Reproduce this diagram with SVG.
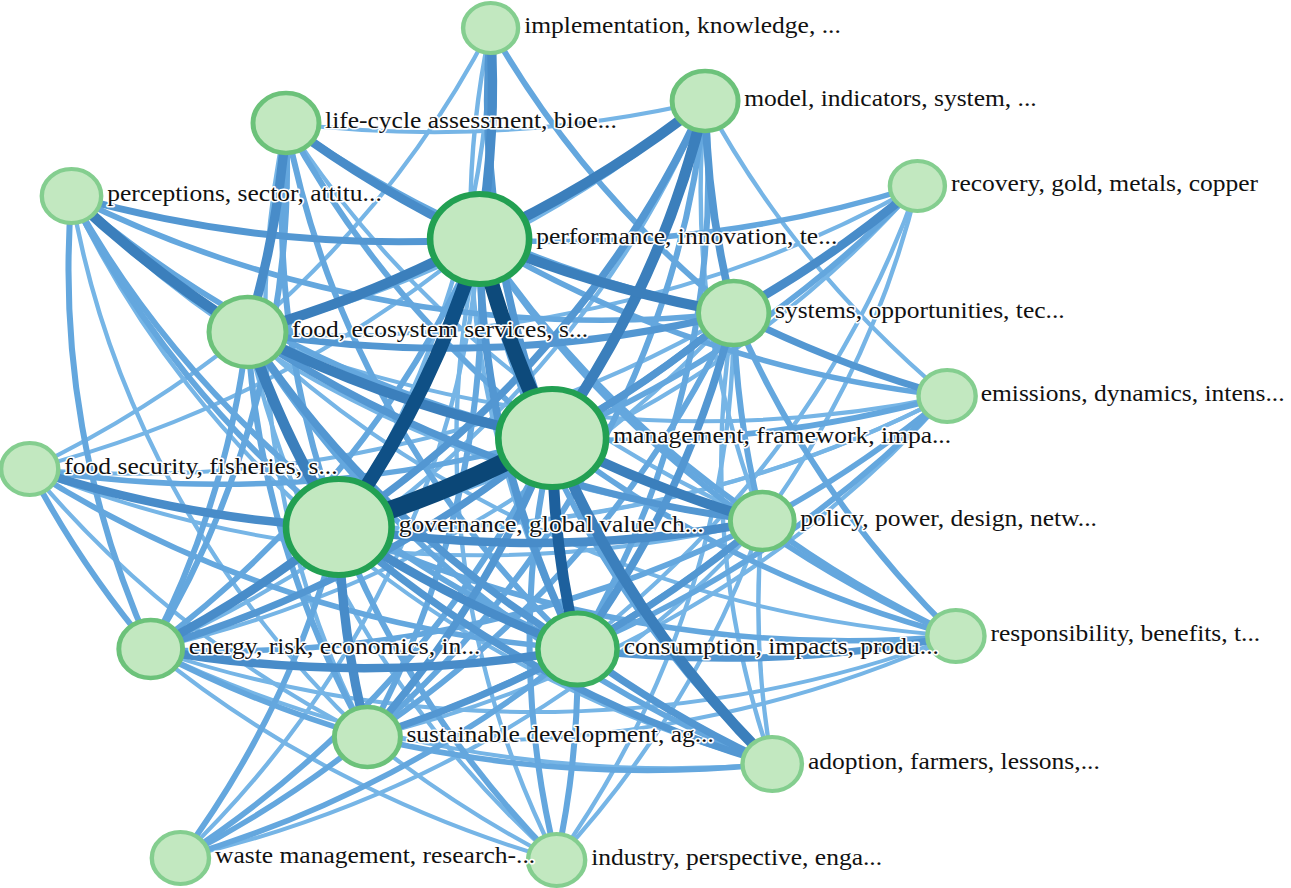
<svg xmlns="http://www.w3.org/2000/svg" width="1291" height="888" viewBox="0 0 1291 888">
<style>
#edges path{fill:none;stroke-linecap:butt}
.e1{stroke:#76b5e6;stroke-width:4}
.e2{stroke:#64a7de;stroke-width:5.5}
.e3{stroke:#5397d2;stroke-width:7}
.e4{stroke:#488cc9;stroke-width:8.5}
.e5{stroke:#3b7fbc;stroke-width:10}
.d1{stroke:#0b4777;stroke-width:18}
.d2{stroke:#0d4a7b;stroke-width:14}
.d3{stroke:#0f5086;stroke-width:13}
.d4{stroke:#1d609d;stroke-width:10}
.node circle{fill:#c2e8c0}
.big circle{stroke:#22a052;stroke-width:6}
.mid circle{stroke:#3aae5f;stroke-width:5}
.sm circle{stroke:#6cc27a;stroke-width:4.5}
.xs circle{stroke:#84ce8f;stroke-width:4}
.node text{font-family:"Liberation Serif","Times New Roman",serif;font-size:23.2px;fill:#111111;stroke:#ffffff;stroke-width:3;stroke-linejoin:round;paint-order:stroke}
</style>
<rect width="1291" height="888" fill="#ffffff"/>
<g transform="scale(1.1,1)">
<g id="edges">
<path class="e1" d="M27 469 A1000 1000 0 0 0 225 332"/>
<path class="e1" d="M27 469 A1000 1000 0 0 0 436 239"/>
<path class="e1" d="M27 469 A1000 1000 0 0 0 667 313"/>
<path class="e1" d="M27 469 A1000 1000 0 0 0 334 737"/>
<path class="e1" d="M137 649 A1000 1000 0 0 0 667 313"/>
<path class="e1" d="M137 649 A1000 1000 0 0 0 506 860"/>
<path class="e1" d="M137 649 A1000 1000 0 0 0 641 101"/>
<path class="e1" d="M164 858 A1000 1000 0 0 0 436 239"/>
<path class="e1" d="M334 737 A1000 1000 0 0 0 506 860"/>
<path class="e1" d="M225 332 A1000 1000 0 0 0 506 860"/>
<path class="e1" d="M436 239 A1000 1000 0 0 0 506 860"/>
<path class="e1" d="M506 860 A1000 1000 0 0 0 693 521"/>
<path class="e1" d="M506 860 A1000 1000 0 0 0 667 313"/>
<path class="e1" d="M693 521 A1000 1000 0 0 0 702 764"/>
<path class="e1" d="M667 313 A1000 1000 0 0 0 702 764"/>
<path class="e1" d="M65 196 A1000 1000 0 0 0 702 764"/>
<path class="e1" d="M225 332 A1000 1000 0 0 0 869 636"/>
<path class="e1" d="M334 737 A1000 1000 0 0 0 869 636"/>
<path class="e1" d="M308 527 A1000 1000 0 0 0 861 396"/>
<path class="e1" d="M225 332 A1000 1000 0 0 0 861 396"/>
<path class="e1" d="M334 737 A1000 1000 0 0 0 861 396"/>
<path class="e1" d="M27 469 A1000 1000 0 0 0 861 396"/>
<path class="e1" d="M308 527 A1000 1000 0 0 0 834 186"/>
<path class="e1" d="M693 521 A1000 1000 0 0 0 834 186"/>
<path class="e1" d="M525 649 A1000 1000 0 0 0 834 186"/>
<path class="e1" d="M225 332 A1000 1000 0 0 0 641 101"/>
<path class="e1" d="M641 101 A1000 1000 0 0 0 693 521"/>
<path class="e1" d="M260 123 A1000 1000 0 0 0 641 101"/>
<path class="e1" d="M641 101 A1000 1000 0 0 0 861 396"/>
<path class="e1" d="M225 332 A1000 1000 0 0 0 446 28"/>
<path class="e1" d="M308 527 A1000 1000 0 0 0 446 28"/>
<path class="e1" d="M446 28 A1000 1000 0 0 0 525 649"/>
<path class="e1" d="M260 123 A1000 1000 0 0 0 334 737"/>
<path class="e1" d="M260 123 A1000 1000 0 0 0 693 521"/>
<path class="e1" d="M65 196 A1000 1000 0 0 0 334 737"/>
<path class="e1" d="M27 469 A1000 1000 0 0 0 693 521"/>
<path class="e1" d="M137 649 A1000 1000 0 0 0 702 764"/>
<path class="e1" d="M137 649 A1000 1000 0 0 0 869 636"/>
<path class="e1" d="M65 196 A1000 1000 0 0 0 693 521"/>
<path class="e1" d="M164 858 A1000 1000 0 0 0 693 521"/>
<path class="e1" d="M225 332 A1000 1000 0 0 0 834 186"/>
<path class="e2" d="M260 123 A1000 1000 0 0 0 308 527"/>
<path class="e2" d="M260 123 A1000 1000 0 0 0 502 438"/>
<path class="e2" d="M334 737 A1000 1000 0 0 0 436 239"/>
<path class="e2" d="M436 239 A1000 1000 0 0 0 693 521"/>
<path class="e2" d="M502 438 A1000 1000 0 0 0 861 396"/>
<path class="e2" d="M502 438 A1000 1000 0 0 0 869 636"/>
<path class="e2" d="M525 649 A1000 1000 0 0 0 641 101"/>
<path class="e2" d="M65 196 A1000 1000 0 0 0 308 527"/>
<path class="e2" d="M65 196 A1000 1000 0 0 0 502 438"/>
<path class="e2" d="M65 196 A1000 1000 0 0 0 137 649"/>
<path class="e2" d="M27 469 A1000 1000 0 0 0 525 649"/>
<path class="e2" d="M27 469 A1000 1000 0 0 0 502 438"/>
<path class="e2" d="M27 469 A1000 1000 0 0 0 137 649"/>
<path class="e2" d="M137 649 A1000 1000 0 0 0 225 332"/>
<path class="e2" d="M137 649 A1000 1000 0 0 0 260 123"/>
<path class="e2" d="M137 649 A1000 1000 0 0 0 693 521"/>
<path class="e2" d="M137 649 A1000 1000 0 0 0 334 737"/>
<path class="e2" d="M137 649 A1000 1000 0 0 0 436 239"/>
<path class="e2" d="M164 858 A1000 1000 0 0 0 308 527"/>
<path class="e2" d="M164 858 A1000 1000 0 0 0 334 737"/>
<path class="e2" d="M164 858 A1000 1000 0 0 0 502 438"/>
<path class="e2" d="M164 858 A1000 1000 0 0 0 525 649"/>
<path class="e2" d="M308 527 A1000 1000 0 0 0 506 860"/>
<path class="e2" d="M502 438 A1000 1000 0 0 0 506 860"/>
<path class="e2" d="M506 860 A1000 1000 0 0 0 525 649"/>
<path class="e2" d="M334 737 A1000 1000 0 0 0 702 764"/>
<path class="e2" d="M436 239 A1000 1000 0 0 0 702 764"/>
<path class="e2" d="M225 332 A1000 1000 0 0 0 702 764"/>
<path class="e2" d="M693 521 A1000 1000 0 0 0 869 636"/>
<path class="e2" d="M667 313 A1000 1000 0 0 0 869 636"/>
<path class="e2" d="M436 239 A1000 1000 0 0 0 869 636"/>
<path class="e2" d="M308 527 A1000 1000 0 0 0 869 636"/>
<path class="e2" d="M693 521 A1000 1000 0 0 0 861 396"/>
<path class="e2" d="M436 239 A1000 1000 0 0 0 861 396"/>
<path class="e2" d="M525 649 A1000 1000 0 0 0 861 396"/>
<path class="e2" d="M436 239 A1000 1000 0 0 0 834 186"/>
<path class="e2" d="M502 438 A1000 1000 0 0 0 834 186"/>
<path class="e2" d="M334 737 A1000 1000 0 0 0 641 101"/>
<path class="e2" d="M446 28 A1000 1000 0 0 0 667 313"/>
<path class="e2" d="M260 123 A1000 1000 0 0 0 667 313"/>
<path class="e2" d="M260 123 A1000 1000 0 0 0 525 649"/>
<path class="e2" d="M65 196 A1000 1000 0 0 0 667 313"/>
<path class="e2" d="M65 196 A1000 1000 0 0 0 525 649"/>
<path class="e2" d="M667 313 A1000 1000 0 0 0 693 521"/>
<path class="e2" d="M334 737 A1000 1000 0 0 0 667 313"/>
<path class="e2" d="M334 737 A1000 1000 0 0 0 693 521"/>
<path class="e2" d="M225 332 A1000 1000 0 0 0 334 737"/>
<path class="e3" d="M641 101 A1000 1000 0 0 0 667 313"/>
<path class="e3" d="M667 313 A1000 1000 0 0 0 861 396"/>
<path class="e3" d="M308 527 A1000 1000 0 0 0 667 313"/>
<path class="e3" d="M525 649 A1000 1000 0 0 0 869 636"/>
<path class="e3" d="M308 527 A1000 1000 0 0 0 641 101"/>
<path class="e3" d="M502 438 A1000 1000 0 0 0 667 313"/>
<path class="e3" d="M225 332 A1000 1000 0 0 0 667 313"/>
<path class="e3" d="M225 332 A1000 1000 0 0 0 525 649"/>
<path class="e3" d="M65 196 A1000 1000 0 0 0 436 239"/>
<path class="e3" d="M525 649 A1000 1000 0 0 0 693 521"/>
<path class="e3" d="M525 649 A1000 1000 0 0 0 702 764"/>
<path class="e3" d="M334 737 A1000 1000 0 0 0 525 649"/>
<path class="e3" d="M308 527 A1000 1000 0 0 0 702 764"/>
<path class="e3" d="M137 649 A1000 1000 0 0 0 502 438"/>
<path class="e3" d="M334 737 A1000 1000 0 0 0 502 438"/>
<path class="e3" d="M446 28 A1000 1000 0 0 0 502 438"/>
<path class="e3" d="M225 332 A1000 1000 0 0 0 693 521"/>
<path class="e3" d="M436 239 A1000 1000 0 0 0 525 649"/>
<path class="e3" d="M525 649 A1000 1000 0 0 0 667 313"/>
<path class="e4" d="M436 239 A1000 1000 0 0 0 446 28"/>
<path class="e4" d="M260 123 A1000 1000 0 0 0 436 239"/>
<path class="e4" d="M308 527 A1000 1000 0 0 0 334 737"/>
<path class="e4" d="M308 527 A1000 1000 0 0 0 525 649"/>
<path class="e4" d="M137 649 A1000 1000 0 0 0 308 527"/>
<path class="e4" d="M667 313 A1000 1000 0 0 0 834 186"/>
<path class="e4" d="M308 527 A1000 1000 0 0 0 693 521"/>
<path class="e4" d="M27 469 A1000 1000 0 0 0 308 527"/>
<path class="e4" d="M137 649 A1000 1000 0 0 0 525 649"/>
<path class="e4" d="M225 332 A1000 1000 0 0 0 260 123"/>
<path class="e5" d="M225 332 A1000 1000 0 0 0 308 527"/>
<path class="e5" d="M65 196 A1000 1000 0 0 0 225 332"/>
<path class="e5" d="M502 438 A1000 1000 0 0 0 641 101"/>
<path class="e5" d="M225 332 A1000 1000 0 0 0 436 239"/>
<path class="e5" d="M225 332 A1000 1000 0 0 0 502 438"/>
<path class="e5" d="M436 239 A1000 1000 0 0 0 641 101"/>
<path class="e5" d="M436 239 A1000 1000 0 0 0 667 313"/>
<path class="e5" d="M502 438 A1000 1000 0 0 0 702 764"/>
<path class="e5" d="M502 438 A1000 1000 0 0 0 693 521"/>
<path class="d4" d="M502 438 A1000 1000 0 0 0 525 649"/>
<path class="d3" d="M308 527 A1000 1000 0 0 0 436 239"/>
<path class="d2" d="M436 239 A1000 1000 0 0 0 502 438"/>
<path class="d1" d="M308 527 A1000 1000 0 0 0 502 438"/>
</g>
<g id="node-responsibility" class="node xs"><circle cx="869" cy="636" r="26"/><text x="900.5" y="641">responsibility, benefits, t...</text></g>
<g id="node-industry" class="node xs"><circle cx="506" cy="860" r="26"/><text x="537.5" y="865">industry, perspective, enga...</text></g>
<g id="node-emissions" class="node xs"><circle cx="861" cy="396" r="26"/><text x="891.5" y="401">emissions, dynamics, intens...</text></g>
<g id="node-policy" class="node sm"><circle cx="693" cy="521" r="29"/><text x="727.5" y="526">policy, power, design, netw...</text></g>
<g id="node-systems" class="node sm"><circle cx="667" cy="313" r="32"/><text x="704.5" y="318">systems, opportunities, tec...</text></g>
<g id="node-governance" class="node big"><circle cx="308" cy="527" r="48"/><text x="362.5" y="532">governance, global value ch...</text></g>
<g id="node-management" class="node big"><circle cx="502" cy="438" r="49"/><text x="557.5" y="443">management, framework, impa...</text></g>
<g id="node-performance" class="node big"><circle cx="436" cy="239" r="45"/><text x="487.5" y="244">performance, innovation, te...</text></g>
<g id="node-consumption" class="node mid"><circle cx="525" cy="649" r="36"/><text x="567" y="654">consumption, impacts, produ...</text></g>
<g id="node-food" class="node sm"><circle cx="225" cy="332" r="35"/><text x="265.5" y="337">food, ecosystem services, s...</text></g>
<g id="node-lifecycle" class="node sm"><circle cx="260" cy="123" r="30"/><text x="295.5" y="128">life-cycle assessment, bioe...</text></g>
<g id="node-model" class="node sm"><circle cx="641" cy="101" r="30"/><text x="676.5" y="106">model, indicators, system, ...</text></g>
<g id="node-implementation" class="node xs"><circle cx="446" cy="28" r="25"/><text x="476.5" y="33">implementation, knowledge, ...</text></g>
<g id="node-perceptions" class="node xs"><circle cx="65" cy="196" r="27"/><text x="97.5" y="201">perceptions, sector, attitu...</text></g>
<g id="node-recovery" class="node xs"><circle cx="834" cy="186" r="25"/><text x="864.5" y="191">recovery, gold, metals, copper</text></g>
<g id="node-foodsecurity" class="node xs"><circle cx="27" cy="469" r="26"/><text x="58.5" y="474">food security, fisheries, s...</text></g>
<g id="node-energy" class="node sm"><circle cx="137" cy="649" r="29"/><text x="171.5" y="654">energy, risk, economics, in...</text></g>
<g id="node-sustainable" class="node sm"><circle cx="334" cy="737" r="30"/><text x="369.5" y="742">sustainable development, ag...</text></g>
<g id="node-adoption" class="node xs"><circle cx="702" cy="764" r="27"/><text x="734.5" y="769">adoption, farmers, lessons,...</text></g>
<g id="node-waste" class="node xs"><circle cx="164" cy="858" r="26"/><text x="195.5" y="863">waste management, research-...</text></g>
</g>
</svg>
